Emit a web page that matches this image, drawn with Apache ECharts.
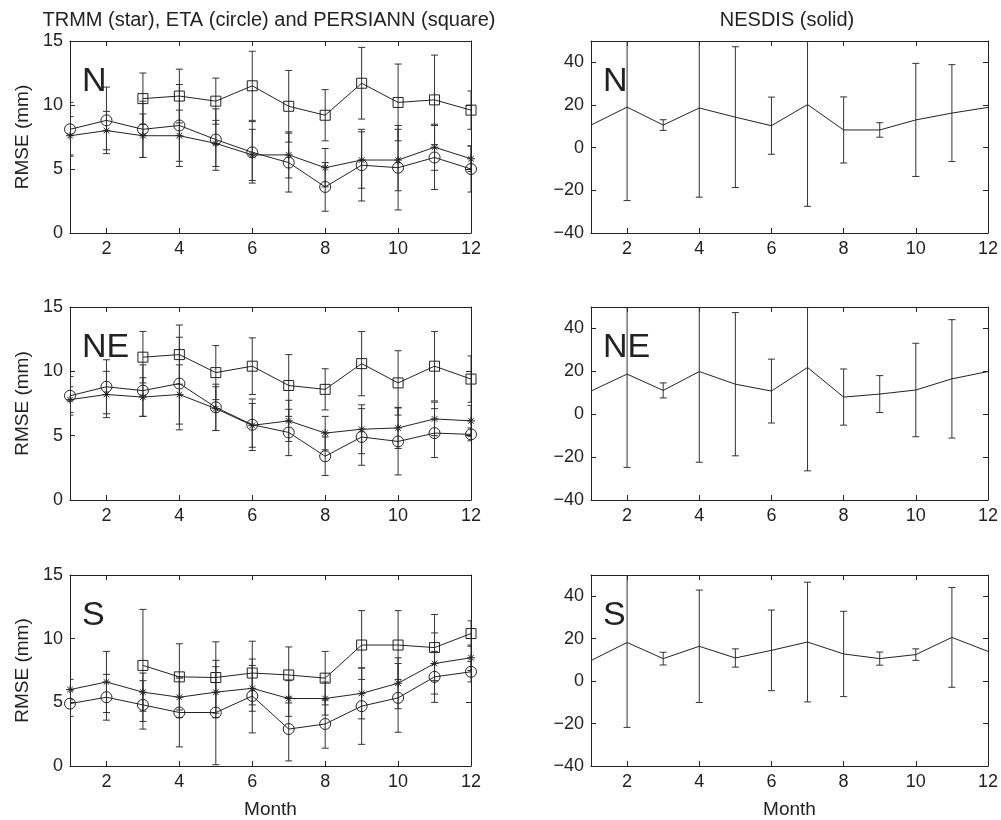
<!DOCTYPE html>
<html><head><meta charset="utf-8">
<script src="https://cdn.jsdelivr.net/npm/echarts@6/dist/echarts.min.js"></script>
<style>html,body{margin:0;padding:0;background:#fff}#c{width:1001px;height:820px}</style>
</head><body><div id="c"></div>
<script>
// ---------- data ----------
const months = [1,2,3,4,5,6,7,8,9,10,11,12];
const xTicks = [2,4,6,8,10,12];
const rmseTicks = [0,5,10,15];
const nesTicks = [-40,-20,0,20,40];
const regionLabels = ['N','NE','S'];
const leftTitle = 'TRMM (star), ETA (circle) and PERSIANN (square)';
const rightTitle = 'NESDIS (solid)';
const yName = 'RMSE (mm)';
const xName = 'Month';

// N
const trmmN    = [7.6, 8.0, 7.6, 7.6, 7.0, 6.1, 6.1, 5.1, 5.7, 5.7, 6.7, 5.8];
const trmmNErr = [1.5, 1.5, 1.7, 2.0, 1.8, 2.0, 1.8, 1.5, 2.2, 2.4, 1.8, 1.0];
const etaN     = [8.1, 8.8, 8.1, 8.4, 7.3, 6.3, 5.5, 3.6, 5.3, 5.1, 5.9, 5.0];
const etaNErr  = [2.1, 2.6, 2.2, 3.2, 2.4, 2.4, 2.3, 1.9, 2.8, 3.3, 2.5, 1.8];
const perN     = [null, null, 10.5, 10.7, 10.3, 11.5, 9.9, 9.2, 11.7, 10.2, 10.4, 9.6];
const perNErr  = [null, null, 2.0, 2.1, 1.8, 2.7, 2.8, 2.0, 2.8, 3.0, 3.5, 1.5];
// NE
const trmmNE    = [7.8, 8.2, 8.0, 8.2, 7.1, 5.8, 6.15, 5.2, 5.5, 5.6, 6.3, 6.15];
const trmmNEErr = [1.0, 1.8, 1.5, 2.3, 1.7, 1.7, 1.6, 1.3, 1.9, 1.6, 1.3, 1.2];
const etaNE     = [8.1, 8.8, 8.5, 9.05, 7.2, 5.85, 5.25, 3.4, 4.9, 4.55, 5.2, 5.1];
const etaNEErr  = [1.5, 2.1, 2.0, 3.6, 1.8, 2.0, 1.8, 1.5, 2.2, 2.6, 1.9, 0.5];
const perNE     = [null, null, 11.1, 11.3, 9.9, 10.4, 8.9, 8.6, 10.6, 9.1, 10.4, 9.4];
const perNEErr  = [null, null, 2.0, 2.3, 2.1, 2.2, 2.4, 1.6, 2.5, 2.5, 2.7, 1.8];
// S
const trmmS    = [6.0, 6.6, 5.8, 5.4, 5.8, 6.1, 5.3, 5.3, 5.7, 6.5, 8.05, 8.5];
const trmmSErr = [0.8, 2.4, 1.5, 1.6, 2.0, 1.8, 1.4, 1.3, 2.0, 2.0, 2.4, 1.0];
const etaS     = [4.9, 5.4, 4.8, 4.2, 4.2, 5.5, 2.9, 3.3, 4.7, 5.35, 7.0, 7.4];
const etaSErr  = [1.0, 1.8, 1.9, 2.7, 4.1, 2.9, 2.5, 1.9, 3.0, 2.7, 2.0, 0.8];
const perS     = [null, null, 7.9, 7.0, 6.95, 7.3, 7.15, 6.9, 9.5, 9.5, 9.3, 10.4];
const perSErr  = [null, null, 4.4, 2.6, 2.8, 2.5, 2.2, 2.1, 2.7, 2.7, 2.6, 1.0];
// NESDIS
const nesN     = [10.6, 19.0, 10.6, 18.6, 14.3, 10.3, 20.2, 8.3, 8.3, 13.0, 16.2, 18.9];
const nesNErr  = [0, 43.8, 2.5, 41.8, 33.0, 13.4, 47.7, 15.5, 3.4, 26.5, 22.7, 0];
const nesNE    = [10.8, 18.7, 11.1, 19.9, 14.0, 10.8, 21.8, 8.0, 9.4, 11.3, 16.5, 19.9];
const nesNEErr = [0, 43.5, 3.5, 42.3, 33.4, 14.9, 48.2, 13.1, 8.6, 21.8, 27.6, 0];
const nesS     = [9.7, 18.2, 10.6, 16.4, 10.9, 14.5, 18.4, 12.8, 10.6, 12.5, 20.6, 14.0];
const nesSErr  = [0, 40.0, 3.0, 26.5, 4.3, 19.0, 28.2, 20.1, 3.1, 2.7, 23.5, 0];

// ---------- styling / layout ----------
const FONT = '"Liberation Sans", Arial, sans-serif';
const INK = '#222';
const grids = [
  {left:70,  top:41,  width:401, height:192},
  {left:591, top:41,  width:397, height:192},
  {left:70,  top:307, width:401, height:193},
  {left:591, top:307, width:397, height:193},
  {left:70,  top:575, width:401, height:194},
  {left:591, top:575, width:397, height:194}
];
const STAR = 'path://M5,0L5,10M0,5L10,5M1.5,1.5L8.5,8.5M1.5,8.5L8.5,1.5';

const panels = [
  {kind:'rmse', series:[[trmmN,trmmNErr],[etaN,etaNErr],[perN,perNErr]]},
  {kind:'nes',  series:[[nesN,nesNErr]]},
  {kind:'rmse', series:[[trmmNE,trmmNEErr],[etaNE,etaNEErr],[perNE,perNEErr]]},
  {kind:'nes',  series:[[nesNE,nesNEErr]]},
  {kind:'rmse', series:[[trmmS,trmmSErr],[etaS,etaSErr],[perS,perSErr]]},
  {kind:'nes',  series:[[nesS,nesSErr]]}
];
const markers = [
  {symbol: STAR, size: 8},
  {symbol: 'circle', size: 11},
  {symbol: 'rect', size: 10}
];

const xAxes = [], yAxes = [], series = [], graphics = [];

function mkAxis(isX, pos, min, max, ticks, showLabel, gi) {
  return {
    type:'value', gridIndex: gi, position: pos, min, max,
    splitLine:{show:false},
    axisLine:{show:true, onZero:false, lineStyle:{color:INK, width:1}},
    axisTick:{show:true, inside:true, length:5, customValues: ticks, lineStyle:{color:INK}},
    axisLabel:{show: showLabel, customValues: ticks, color: INK, fontFamily: FONT, fontSize: 18, margin: 7,
      formatter: v => String(v).replace('-', '\u2212')}
  };
}

function errRender(params, api) {
  const x = api.value(0), lo = api.value(1), hi = api.value(2);
  const a = api.coord([x, lo]), b = api.coord([x, hi]);
  const w = 3.5;
  const st = {stroke:'#333', lineWidth:1};
  return {type:'group', children:[
    {type:'line', shape:{x1:a[0],y1:a[1],x2:b[0],y2:b[1]}, style:st},
    {type:'line', shape:{x1:a[0]-w,y1:a[1],x2:a[0]+w,y2:a[1]}, style:st},
    {type:'line', shape:{x1:b[0]-w,y1:b[1],x2:b[0]+w,y2:b[1]}, style:st}
  ]};
}

panels.forEach((p, gi) => {
  const isRmse = p.kind === 'rmse';
  const yMin = isRmse ? 0 : -40, yMax = isRmse ? 15 : 50;
  const yT = isRmse ? rmseTicks : nesTicks;
  const bottomRow = gi >= 4;
  const xb = mkAxis(true, 'bottom', 1, 12, xTicks, true, gi);
  if (bottomRow) {
    xb.name = xName; xb.nameLocation = 'middle'; xb.nameGap = 34;
    xb.nameTextStyle = {color: INK, fontFamily: FONT, fontSize: 19};
  }
  xAxes.push(xb);
  xAxes.push(mkAxis(true, 'top', 1, 12, xTicks, false, gi));
  const yl = mkAxis(false, 'left', yMin, yMax, yT, true, gi);
  if (isRmse) {
    yl.name = yName; yl.nameLocation = 'middle'; yl.nameGap = 38;
    yl.nameTextStyle = {color: INK, fontFamily: FONT, fontSize: 19};
  }
  yAxes.push(yl);
  yAxes.push(mkAxis(false, 'right', yMin, yMax, yT, false, gi));

  p.series.forEach(([vals, errs], si) => {
    const errData = [];
    months.forEach((m, i) => {
      if (vals[i] != null && errs[i]) errData.push([m, vals[i] - errs[i], vals[i] + errs[i]]);
    });
    series.push({
      type:'custom', xAxisIndex: gi*2, yAxisIndex: gi*2, renderItem: errRender,
      data: errData, encode:{x:0, y:[1,2]}, clip:true, z:2, silent:true
    });
    const mk = isRmse ? markers[si] : null;
    series.push({
      type:'line', xAxisIndex: gi*2, yAxisIndex: gi*2,
      data: months.map((m, i) => [m, vals[i]]),
      showSymbol: !!mk, symbol: mk ? mk.symbol : 'none', symbolSize: mk ? mk.size : 0,
      lineStyle:{color:INK, width:1},
      itemStyle:{color:'rgba(255,255,255,0)', borderColor:INK, borderWidth:1},
      emphasis:{disabled:true}, silent:true, z:3, connectNulls:false
    });
  });

  const g = grids[gi];
  graphics.push({type:'text', x: g.left + 12, y: g.top + 41, z: 10,
    style:{text: regionLabels[Math.floor(gi/2)], fill: INK, font: '34px ' + FONT, align:'left', verticalAlign:'middle'}});
});

graphics.push({type:'text', x: 269, y: 20, style:{text:leftTitle, fill:INK, font:'20px ' + FONT, align:'center', verticalAlign:'middle'}});
graphics.push({type:'text', x: 787, y: 20, style:{text:rightTitle, fill:INK, font:'20px ' + FONT, align:'center', verticalAlign:'middle'}});

const chart = echarts.init(document.getElementById('c'), null, {renderer:'canvas'});
chart.setOption({
  backgroundColor:'#fff',
  animation:false,
  grid: grids.map(g => Object.assign({containLabel:false}, g)),
  xAxis: xAxes, yAxis: yAxes, series, graphic: graphics
});
</script>
</body></html>
